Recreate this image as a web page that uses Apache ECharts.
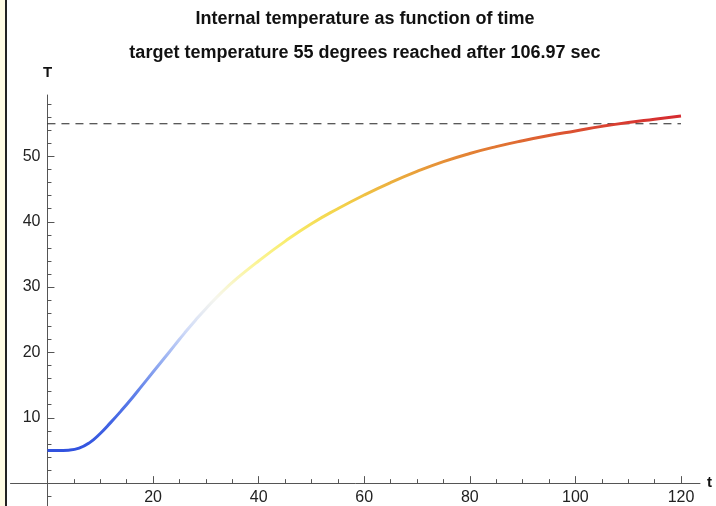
<!DOCTYPE html>
<html lang="en">
<head>
<meta charset="UTF-8">
<title>Internal temperature as function of time</title>
<style>
  html, body { margin: 0; padding: 0; background: #fff; }
  #chart { width: 716px; height: 506px; }
</style>
</head>
<body>
<div id="chart"></div>
<script src="https://cdn.jsdelivr.net/npm/echarts@6/dist/echarts.min.js"></script>
<script>
// time (sec) and internal temperature
var timeSec = [0, 2, 4, 6, 8, 10, 12, 14, 16, 18, 20, 22, 24, 26, 28, 30, 33, 36, 40, 45, 50, 55, 60, 65, 70, 75, 80, 85, 90, 95, 100, 105, 110, 115, 120];
var tempC   = [5.0, 5.0, 5.05, 5.35, 6.2, 7.6, 9.3, 11.1, 13.0, 15.0, 17.0, 19.0, 21.0, 23.0, 24.9, 26.7, 29.2, 31.4, 34.0, 37.0, 39.7, 42.0, 44.1, 46.0, 47.7, 49.2, 50.45, 51.5, 52.4, 53.2, 53.9, 54.6, 55.2, 55.7, 56.2];
var targetTemp = 55;
var targetLine = [0, 120];

var xMajorTicks = [20, 40, 60, 80, 100, 120];
var xMinorTicks = [5, 10, 15, 25, 30, 35, 45, 50, 55, 65, 70, 75, 85, 90, 95, 105, 110, 115];
var yMajorTicks = [10, 20, 30, 40, 50];
var yMinorTicks = [-2, 2, 4, 6, 8, 12, 14, 16, 18, 22, 24, 26, 28, 32, 34, 36, 38, 42, 44, 46, 48, 52, 54, 56, 58];

// blue -> white -> yellow -> red, spread over the temperature range
var heatColors = ['#3152df', '#4466e4', '#6585ea', '#9bb2f2', '#d3ddf8', '#f6f6ee',
                  '#fbf5a0', '#f8ec6a', '#f3d24a', '#eaa83c', '#e17632', '#d52a30'];

var FONT = '"Liberation Sans", Arial, sans-serif';

var curve = [];
for (var i = 0; i < timeSec.length; i++) {
    curve.push([timeSec[i], tempC[i]]);
}
var dashed = [];
for (var j = 0; j < targetLine.length; j++) {
    dashed.push([targetLine[j], targetTemp]);
}

var xMin = -7, xMax = 123.6, yMin = -3.5, yMax = 59.4;
var axisColor = '#555';

// grid 0: axes crossing at zero with ticks; grid 1: only the tick labels,
// its left/bottom edges sit on the zero lines of grid 0
function axesFor(dim) {
    var isX = dim === 'x';
    var lo = isX ? xMin : yMin, hi = isX ? xMax : yMax;
    var pos = isX ? 'bottom' : 'left';
    return [
        {
            type: 'value', gridIndex: 0, min: lo, max: hi, position: pos,
            name: isX ? 't' : 'T',
            nameLocation: 'end',
            nameGap: isX ? 7 : 15,
            nameTextStyle: { fontFamily: FONT, fontWeight: 'bold', fontSize: 15, color: '#111' },
            axisLine: { show: true, onZero: true, lineStyle: { color: axisColor, width: 1 } },
            axisTick: { show: true, inside: true, length: 7, customValues: isX ? xMajorTicks : yMajorTicks,
                        lineStyle: { color: axisColor } },
            axisLabel: { show: false },
            splitLine: { show: false }
        },
        {
            type: 'value', gridIndex: 0, min: lo, max: hi, position: pos,
            axisLine: { show: false, onZero: true, onZeroAxisIndex: 0 },
            axisTick: { show: true, inside: true, length: 4, customValues: isX ? xMinorTicks : yMinorTicks,
                        lineStyle: { color: axisColor } },
            axisLabel: { show: false },
            splitLine: { show: false }
        },
        {
            type: 'value', gridIndex: 1, min: 0, max: hi, position: pos,
            axisLine: { show: false, onZero: false },
            axisTick: { show: false },
            axisLabel: { show: true, customValues: isX ? xMajorTicks : yMajorTicks, margin: 7,
                         fontFamily: FONT, fontSize: 16, color: '#222' },
            splitLine: { show: false }
        }
    ];
}

var chart = echarts.init(document.getElementById('chart'), null, { renderer: 'canvas' });

chart.setOption({
    animation: false,
    backgroundColor: '#fff',
    grid: [
        { left: 10.5, right: 16, top: 95, bottom: 0, containLabel: false, outerBoundsMode: 'none' },
        { left: 47.46, right: 16, top: 95, bottom: 23, containLabel: false, outerBoundsMode: 'none' }
    ],
    xAxis: axesFor('x'),
    yAxis: axesFor('y'),
    visualMap: {
        type: 'continuous',
        show: false,
        seriesIndex: 0,
        dimension: 1,
        min: tempC[0],
        max: tempC[tempC.length - 1],
        inRange: { color: heatColors }
    },
    graphic: [
        { type: 'rect', left: 0, top: 0, shape: { width: 5, height: 506 }, style: { fill: '#fffce4' } },
        { type: 'rect', left: 5, top: 0, shape: { width: 2, height: 506 }, style: { fill: '#222' } },
        { type: 'text', x: 365, y: 19, style: { text: 'Internal temperature as function of time',
            font: 'bold 18px ' + FONT, fill: '#111', textAlign: 'center', textVerticalAlign: 'middle' } },
        { type: 'text', x: 365, y: 53, style: { text: 'target temperature 55 degrees reached after 106.97 sec',
            font: 'bold 18px ' + FONT, fill: '#111', textAlign: 'center', textVerticalAlign: 'middle' } }
    ],
    series: [
        {
            type: 'line',
            xAxisIndex: 0,
            yAxisIndex: 0,
            data: curve,
            smooth: true,
            showSymbol: false,
            lineStyle: { width: 3 },
            z: 3
        },
        {
            type: 'line',
            xAxisIndex: 0,
            yAxisIndex: 0,
            data: dashed,
            showSymbol: false,
            lineStyle: { color: '#222', width: 1, type: [8, 6] },
            z: 2
        }
    ]
});
</script>
</body>
</html>
